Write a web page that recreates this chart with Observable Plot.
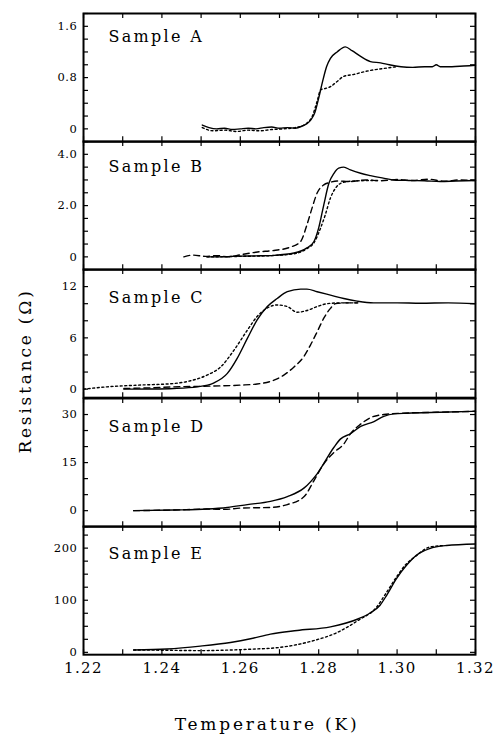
<!DOCTYPE html>
<html><head><meta charset="utf-8">
<script src="https://cdn.jsdelivr.net/npm/d3@7"></script>
<script src="https://cdn.jsdelivr.net/npm/@observablehq/plot@0.6"></script>
<style>
body{margin:0;background:#fff;}
#chart{position:relative;width:495px;height:735px;font-family:"DejaVu Serif",serif;color:#000;overflow:hidden;}
#chart svg{position:absolute;left:0;overflow:visible;}
#chart g[aria-label="text"] text{letter-spacing:2.3px;}
#chart g[aria-label="y-axis tick label"] text{letter-spacing:0.6px;}
#chart g[aria-label="x-axis tick label"] text{letter-spacing:1.4px;}
.ylab{position:absolute;left:25px;top:371px;transform:translate(-50%,-50%) rotate(-90deg);font-size:17px;letter-spacing:2.8px;white-space:nowrap;}
.xlab{position:absolute;left:267px;top:724px;transform:translate(-50%,-50%);font-size:17px;letter-spacing:2.8px;white-space:nowrap;}
</style></head><body><div id="chart"></div>
<script>
// ---- x axis ----
const xTicks = [1.22, 1.23, 1.24, 1.25, 1.26, 1.27, 1.28, 1.29, 1.30, 1.31, 1.32];
const xLabelTicks = [1.22, 1.24, 1.26, 1.28, 1.30, 1.32];
const xLabels = ["1.22", "1.24", "1.26", "1.28", "1.30", "1.32"];
const xTitle = "Temperature (K)";
const yTitle = "Resistance (Ω)";

// ---- Sample A ----
const aName = "Sample A";
const aDomain = [-0.2, 1.8];
const aMajor = [0, 0.8, 1.6];
const aLabels = ["0", "0.8", "1.6"];
const aMinor = [-0.2, 0, 0.2, 0.4, 0.6, 0.8, 1.0, 1.2, 1.4, 1.6, 1.8];
const aSolidT = [1.2503, 1.252, 1.254, 1.256, 1.258, 1.260, 1.262, 1.264, 1.266, 1.268, 1.270, 1.272, 1.274, 1.276, 1.277, 1.278, 1.279, 1.280, 1.281, 1.282, 1.283, 1.2847, 1.2868, 1.2885, 1.2907, 1.2932, 1.2958, 1.298, 1.301, 1.304, 1.307, 1.309, 1.310, 1.311, 1.314, 1.317, 1.320];
const aSolidR = [0.06, 0.02, 0.0, 0.01, -0.01, 0.0, 0.01, 0.0, 0.02, 0.03, 0.01, 0.02, 0.01, 0.05, 0.08, 0.14, 0.25, 0.48, 0.74, 0.97, 1.1, 1.2, 1.28, 1.22, 1.13, 1.05, 1.03, 1.0, 0.97, 0.96, 0.97, 0.97, 1.0, 0.97, 0.97, 0.98, 0.99];
const aDotT = [1.2503, 1.253, 1.256, 1.259, 1.262, 1.265, 1.268, 1.271, 1.274, 1.2762, 1.2783, 1.2796, 1.2805, 1.2817, 1.283, 1.2847, 1.2864, 1.289, 1.2915, 1.294, 1.2975, 1.300];
const aDotR = [0.02, -0.03, -0.02, -0.04, -0.02, -0.03, -0.01, 0.0, 0.02, 0.06, 0.19, 0.43, 0.61, 0.63, 0.66, 0.74, 0.82, 0.85, 0.89, 0.92, 0.95, 0.97];

// ---- Sample B ----
const bName = "Sample B";
const bDomain = [-0.5, 4.5];
const bMajor = [0, 2, 4];
const bLabels = ["0", "2.0", "4.0"];
const bMinor = [-0.5, 0, 0.5, 1.0, 1.5, 2.0, 2.5, 3.0, 3.5, 4.0, 4.5];
const bSolidT = [1.2515, 1.255, 1.258, 1.260, 1.264, 1.2686, 1.2737, 1.277, 1.2788, 1.280, 1.2813, 1.2826, 1.2839, 1.2851, 1.2864, 1.2881, 1.2907, 1.2932, 1.2958, 1.2992, 1.303, 1.307, 1.311, 1.315, 1.320];
const bSolidR = [0.0, 0.0, 0.02, 0.03, 0.04, 0.06, 0.15, 0.35, 0.6, 1.13, 2.03, 2.87, 3.26, 3.46, 3.5, 3.39, 3.26, 3.17, 3.09, 3.0, 2.98, 2.97, 2.94, 2.96, 2.98];
const bDashT = [1.2456, 1.248, 1.251, 1.254, 1.257, 1.260, 1.2644, 1.2686, 1.2728, 1.2754, 1.277, 1.2783, 1.2796, 1.2813, 1.283, 1.2847, 1.288, 1.292, 1.296, 1.300, 1.304, 1.308, 1.312, 1.316, 1.320];
const bDashR = [0.0, 0.07, 0.02, 0.05, 0.0, 0.08, 0.19, 0.25, 0.38, 0.6, 1.25, 1.9, 2.49, 2.81, 2.91, 2.96, 2.94, 3.0, 2.97, 3.02, 2.98, 3.03, 2.95, 3.0, 2.98];
const bDotT = [1.2515, 1.260, 1.268, 1.274, 1.277, 1.2788, 1.2805, 1.2817, 1.283, 1.2843, 1.2856, 1.2875, 1.291, 1.295];
const bDotR = [0.0, 0.02, 0.05, 0.13, 0.32, 0.55, 1.13, 1.65, 2.3, 2.68, 2.87, 2.94, 2.97, 2.98];

// ---- Sample C ----
const cName = "Sample C";
const cDomain = [-1, 14];
const cMajor = [0, 6, 12];
const cLabels = ["0", "6", "12"];
const cMinor = [0, 2, 4, 6, 8, 10, 12, 14];
const cSolidT = [1.2303, 1.237, 1.243, 1.249, 1.2533, 1.2567, 1.2592, 1.2618, 1.2643, 1.2669, 1.2694, 1.272, 1.2754, 1.277, 1.2796, 1.283, 1.2864, 1.2898, 1.294, 1.300, 1.306, 1.313, 1.320];
const cSolidR = [0, 0.02, 0.08, 0.27, 0.74, 1.84, 3.6, 5.94, 8.1, 9.66, 10.6, 11.4, 11.7, 11.7, 11.4, 11.0, 10.6, 10.3, 10.1, 10.1, 10.05, 10.1, 10.0];
const cDotT = [1.220, 1.226, 1.234, 1.243, 1.2473, 1.2515, 1.255, 1.2584, 1.2618, 1.2643, 1.2669, 1.2694, 1.272, 1.2745, 1.277, 1.2796, 1.2822, 1.286, 1.290];
const cDotR = [0, 0.27, 0.47, 0.66, 0.98, 1.64, 2.6, 4.57, 6.9, 8.5, 9.5, 9.85, 9.66, 9.0, 9.2, 9.66, 10.0, 10.1, 10.1];
const cDashT = [1.2303, 1.237, 1.243, 1.250, 1.260, 1.2643, 1.2686, 1.2711, 1.2737, 1.2762, 1.2779, 1.2796, 1.2813, 1.283, 1.2843, 1.287, 1.290];
const cDashR = [0.08, 0.15, 0.27, 0.33, 0.47, 0.6, 1.05, 1.64, 2.6, 3.8, 5.16, 6.7, 8.3, 9.45, 10.0, 10.1, 10.1];

// ---- Sample D ----
const dName = "Sample D";
const dDomain = [-5, 35];
const dMajor = [0, 15, 30];
const dLabels = ["0", "15", "30"];
const dMinor = [-5, 0, 5, 10, 15, 20, 25, 30, 35];
const dSolidT = [1.2328, 1.243, 1.2515, 1.2567, 1.2618, 1.2677, 1.272, 1.2763, 1.2796, 1.2839, 1.2856, 1.2881, 1.2907, 1.2941, 1.2966, 1.2992, 1.3026, 1.311, 1.320];
const dSolidR = [0, 0.2, 0.5, 1.0, 1.9, 2.9, 4.4, 7.1, 11.5, 19.8, 22.4, 24, 26.3, 27.8, 29.4, 30.2, 30.4, 30.7, 31];
const dDashT = [1.2328, 1.243, 1.2515, 1.256, 1.260, 1.2677, 1.272, 1.2763, 1.2788, 1.2813, 1.2839, 1.2864, 1.2881, 1.2907, 1.2932, 1.2966, 1.301, 1.310, 1.320];
const dDashR = [0, 0.2, 0.5, 0.4, 0.8, 1.0, 1.9, 4.4, 9.4, 14.6, 18.2, 20.8, 24, 27, 29, 30, 30.4, 30.7, 31];

// ---- Sample E ----
const eName = "Sample E";
const eDomain = [-4.5, 241.5];
const eMajor = [0, 100, 200];
const eLabels = ["0", "100", "200"];
const eMinor = [0, 25, 50, 75, 100, 125, 150, 175, 200, 225];
const eSolidT = [1.2328, 1.2413, 1.2498, 1.2575, 1.2626, 1.2677, 1.2745, 1.283, 1.290, 1.293, 1.2956, 1.2973, 1.2998, 1.3024, 1.3049, 1.3083, 1.3126, 1.320];
const eSolidR = [4.6, 6.5, 12, 19, 26, 35, 42, 49, 64, 75, 90, 109, 141, 167, 186, 199, 205, 208];
const eDotT = [1.2328, 1.2413, 1.2498, 1.2575, 1.2626, 1.2702, 1.2787, 1.2847, 1.290, 1.2948, 1.2973, 1.2998, 1.3024, 1.3045, 1.3083, 1.312];
const eDotR = [4.6, 4.0, 3.3, 4.5, 6, 9.6, 22.5, 38, 61, 87, 115, 144, 170, 183, 202, 205];

// ---- build ----
const SOLID = null, DASH = "6,4", DOT = "2,2.6";
const panels = [
  {name: aName, domain: aDomain, major: aMajor, labels: aLabels, minor: aMinor, labelDy: 17,
   series: [[aSolidT, aSolidR, SOLID], [aDotT, aDotR, DOT]]},
  {name: bName, domain: bDomain, major: bMajor, labels: bLabels, minor: bMinor, labelDy: 19,
   series: [[bSolidT, bSolidR, SOLID], [bDashT, bDashR, DASH], [bDotT, bDotR, DOT]]},
  {name: cName, domain: cDomain, major: cMajor, labels: cLabels, minor: cMinor, labelDy: 22,
   series: [[cSolidT, cSolidR, SOLID], [cDotT, cDotR, DOT], [cDashT, cDashR, DASH]]},
  {name: dName, domain: dDomain, major: dMajor, labels: dLabels, minor: dMinor, labelDy: 22,
   series: [[dSolidT, dSolidR, SOLID], [dDashT, dDashR, DASH]]},
  {name: eName, domain: eDomain, major: eMajor, labels: eLabels, minor: eMinor, labelDy: 21,
   series: [[eSolidT, eSolidR, SOLID], [eDotT, eDotR, DOT]]}
];

const chart = document.getElementById("chart");
const W = 495, ML = 83, MR = 20, H = 128.2, TOP = 13, TICK = 5;
const plotW = W - ML - MR;

panels.forEach((p, i) => {
  const last = i === panels.length - 1;
  const mT = 6, mB = last ? 40 : 6;
  const marks = [
    Plot.tickX(xTicks, {x: d => d, insetTop: H - TICK, stroke: "#000", strokeWidth: 1.2}),
    Plot.tickX(xTicks, {x: d => d, insetBottom: H - TICK, stroke: "#000", strokeWidth: 1.2}),
    Plot.tickY(p.minor, {y: d => d, insetRight: plotW - TICK, stroke: "#000", strokeWidth: 1.2}),
    Plot.tickY(p.minor, {y: d => d, insetLeft: plotW - TICK, stroke: "#000", strokeWidth: 1.2}),
    Plot.axisY(p.major, {tickSize: 0, tickPadding: 6, fontSize: 11.5, label: null,
      tickFormat: (d) => p.labels[p.major.indexOf(d)]}),
    ...p.series.map(([t, r, dash]) => Plot.lineY(r, {x: t, y: r, stroke: "#000", strokeWidth: 1.4,
      strokeDasharray: dash, curve: "monotone-x"})),
    Plot.text([p.name], {frameAnchor: "top-left", dx: 25, dy: p.labelDy, textAnchor: "start",
      fontSize: 16, fill: "#000"}),
    Plot.frame({stroke: "#000", strokeWidth: 2})
  ];
  if (last) marks.push(Plot.axisX(xLabelTicks, {tickSize: 0, tickPadding: 8, fontSize: 15, label: null,
    tickFormat: (d) => xLabels[xLabelTicks.indexOf(d)]}));
  const svg = Plot.plot({
    width: W, height: H + mT + mB,
    marginLeft: ML, marginRight: MR, marginTop: mT, marginBottom: mB,
    x: {domain: [1.22, 1.32], axis: null},
    y: {domain: p.domain, axis: null},
    style: {background: "transparent", overflow: "visible", fontFamily: "DejaVu Serif, serif", color: "#000"},
    marks
  });
  svg.style.top = (TOP + i * H - mT) + "px";
  chart.appendChild(svg);
});

const yl = document.createElement("div"); yl.className = "ylab"; yl.textContent = yTitle; chart.appendChild(yl);
const xl = document.createElement("div"); xl.className = "xlab"; xl.textContent = xTitle; chart.appendChild(xl);
</script>
</body></html>
